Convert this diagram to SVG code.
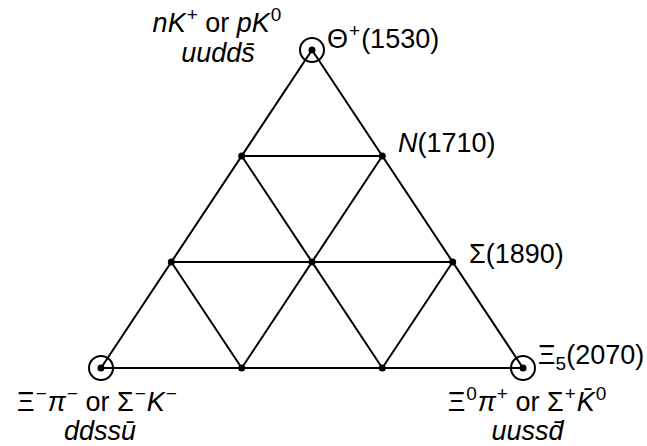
<svg xmlns="http://www.w3.org/2000/svg" width="647" height="446" viewBox="0 0 647 446">
<style>
.e{stroke:#000;stroke-width:2;fill:none;stroke-linecap:round}
.d{fill:#000}
.c{fill:none;stroke:#000;stroke-width:2}
.t{font-family:"Liberation Sans",Arial,Helvetica,sans-serif;font-size:27px;fill:#000}
.i{font-style:italic}
.s{font-size:19px}
</style>
<rect width="647" height="446" fill="#fff"/>
<g id="connectors">
<line class="e" x1="312" y1="50" x2="101" y2="368"/>
<line class="e" x1="312" y1="50" x2="523" y2="368"/>
<line class="e" x1="101" y1="368" x2="523" y2="368"/>
<line class="e" x1="241.7" y1="156" x2="382.3" y2="156"/>
<line class="e" x1="171.3" y1="262" x2="452.7" y2="262"/>
<line class="e" x1="241.7" y1="156" x2="382.3" y2="368"/>
<line class="e" x1="382.3" y1="156" x2="241.7" y2="368"/>
<line class="e" x1="171.3" y1="262" x2="241.7" y2="368"/>
<line class="e" x1="452.7" y1="262" x2="382.3" y2="368"/>
</g>
<g id="theta">
<circle class="c" cx="312" cy="50" r="12"/>
<circle class="d" cx="312" cy="50" r="3.5"/>
<text class="t" x="327" y="48">Θ<tspan class="s" dx="1" dy="-11">+</tspan><tspan dx="1" dy="11">(1530)</tspan></text>
<text class="t" x="217" y="31.5" text-anchor="middle"><tspan class="i">nK</tspan><tspan class="s" dx="1" dy="-11">+</tspan><tspan dy="11"> or </tspan><tspan class="i">pK</tspan><tspan class="s" dx="1" dy="-11">0</tspan></text>
<text class="t i" x="218" y="62" text-anchor="middle">uudds̄</text>
</g>
<g id="n1">
<circle class="d" cx="241.7" cy="156" r="3.5"/>
</g>
<g id="n2">
<circle class="d" cx="382.3" cy="156" r="3.5"/>
<text class="t" x="398" y="152"><tspan class="i">N</tspan>(1710)</text>
</g>
<g id="s1">
<circle class="d" cx="171.3" cy="262" r="3.5"/>
</g>
<g id="s2">
<circle class="d" cx="312" cy="262" r="3.5"/>
</g>
<g id="s3">
<circle class="d" cx="452.7" cy="262" r="3.5"/>
<text class="t" x="469" y="263">Σ(1890)</text>
</g>
<g id="xi-minus">
<circle class="c" cx="101" cy="368" r="12"/>
<circle class="d" cx="101" cy="368" r="3.5"/>
<text class="t" x="97" y="411" text-anchor="middle">Ξ<tspan class="s" dx="1" dy="-11">−</tspan><tspan class="i" dx="1" dy="11">π</tspan><tspan class="s" dx="1" dy="-11">−</tspan><tspan dy="11"> or Σ</tspan><tspan class="s" dx="1" dy="-11">−</tspan><tspan class="i" dx="1" dy="11">K</tspan><tspan class="s" dx="1" dy="-11">−</tspan></text>
<text class="t i" x="100" y="440" text-anchor="middle">ddssū</text>
</g>
<g id="x1">
<circle class="d" cx="241.7" cy="368" r="3.5"/>
</g>
<g id="x2">
<circle class="d" cx="382.3" cy="368" r="3.5"/>
</g>
<g id="xi-plus">
<circle class="c" cx="523" cy="368" r="12"/>
<circle class="d" cx="523" cy="368" r="3.5"/>
<text class="t" x="538" y="364">Ξ<tspan class="s" dy="6">5</tspan><tspan dy="-6">(2070)</tspan></text>
<text class="t" x="527" y="411" text-anchor="middle">Ξ<tspan class="s" dx="1" dy="-11">0</tspan><tspan class="i" dx="1" dy="11">π</tspan><tspan class="s" dx="1" dy="-11">+</tspan><tspan dy="11"> or Σ</tspan><tspan class="s" dx="1" dy="-11">+</tspan><tspan class="i" dx="1" dy="11">K̄</tspan><tspan class="s" dx="1" dy="-11">0</tspan></text>
<text class="t i" x="527.5" y="440" text-anchor="middle">uussd̄</text>
</g>
</svg>
